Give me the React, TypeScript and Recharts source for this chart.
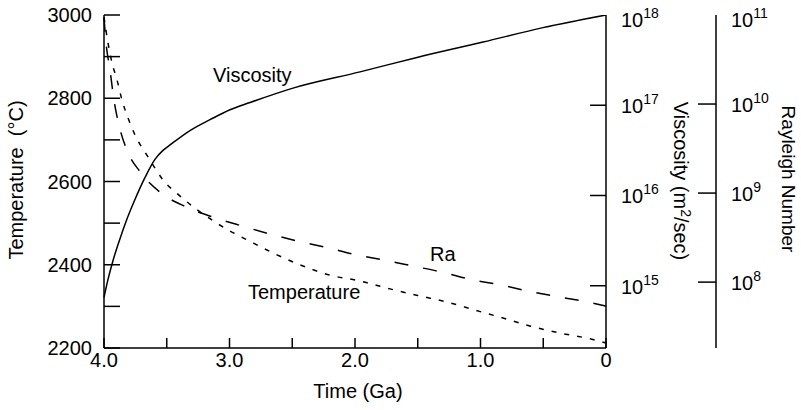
import React from 'react';
import { ComposedChart, Line, XAxis, YAxis } from 'recharts';

// time in Ga
const timeTicks = [4, 3.5, 3, 2.5, 2, 1.5, 1, 0.5, 0];
const tempTicks = [2200, 2300, 2400, 2500, 2600, 2700, 2800, 2900, 3000];
const viscTicks = [15, 16, 17, 18]; // log10 (m2/sec)
const rayTicks = [8, 9, 10, 11]; // log10 Ra

const tempTime = [4.0, 3.968, 3.936, 3.896, 3.857, 3.809, 3.753, 3.649, 3.53, 3.394, 3.235, 3.036, 2.829, 2.637, 2.414, 2.199, 1.96, 1.721, 1.482, 1.275, 1.044, 0.821, 0.606, 0.367, 0.127, 0];
const tempValue = [2995, 2933, 2885, 2844, 2796, 2753, 2712, 2659, 2604, 2565, 2527, 2488, 2455, 2426, 2397, 2375, 2361, 2342, 2325, 2311, 2291, 2272, 2253, 2236, 2222, 2212];

const raTime = [4.0, 3.984, 3.952, 3.92, 3.88, 3.817, 3.713, 3.554, 3.355, 3.131, 2.9, 2.677, 2.454, 2.231, 2.0, 1.777, 1.538, 1.299, 1.076, 0.845, 0.622, 0.398, 0.159, 0];
const raLog = [10.97, 10.69, 10.38, 10.04, 9.76, 9.48, 9.24, 9.01, 8.85, 8.73, 8.63, 8.54, 8.46, 8.39, 8.31, 8.25, 8.18, 8.11, 8.03, 7.97, 7.9, 7.84, 7.78, 7.73];

const viscTime = [4.0, 3.968, 3.928, 3.88, 3.825, 3.761, 3.673, 3.594, 3.53, 3.474, 3.315, 3.155, 2.996, 2.837, 2.494, 1.96, 1.506, 0.98, 0.502, 0];
const viscLog = [14.87, 15.07, 15.28, 15.49, 15.71, 15.93, 16.2, 16.4, 16.5, 16.56, 16.72, 16.84, 16.95, 17.03, 17.19, 17.37, 17.53, 17.7, 17.86, 18.0];

const tempData = tempTime.map((t, i) => ({ t, v: tempValue[i] }));
const raData = raTime.map((t, i) => ({ t, v: raLog[i] }));
const viscData = viscTime.map((t, i) => ({ t, v: viscLog[i] }));

const FONT = '"Liberation Sans", Arial, Helvetica, sans-serif';
const FS = 20;

const BottomTick = ({ x, y, payload }: any) => {
    const v = payload.value;
    const whole = Math.abs(v - Math.round(v)) < 1e-6;
    return (
        <g>
            <line x1={x} x2={x} y1={y} y2={y - 10} stroke="#000" strokeWidth={1.5} />
            {whole && (
                <text x={x} y={y + 19} textAnchor="middle" fontSize={FS} fontFamily={FONT} fill="#000">
                    {v === 0 ? '0' : v.toFixed(1)}
                </text>
            )}
        </g>
    );
};

const TopTick = ({ x, y }: any) => (
    <line x1={x} x2={x} y1={y} y2={y + 10} stroke="#000" strokeWidth={1.5} />
);

const TempTick = ({ x, y, payload }: any) => {
    const v = payload.value;
    return (
        <g>
            <line x1={x} x2={x + 16} y1={y} y2={y} stroke="#000" strokeWidth={1.5} />
            {v % 200 === 0 && (
                <text x={x - 12} y={y + 7} textAnchor="end" fontSize={FS} fontFamily={FONT} fill="#000">
                    {v}
                </text>
            )}
        </g>
    );
};

const PowerTick = ({ x, y, payload, len, top }: any) => {
    const v = payload.value;
    return (
        <g>
            {v !== top && <line x1={x - len} x2={x} y1={y} y2={y} stroke="#000" strokeWidth={1.5} />}
            <text x={x + 15} y={y + (v === top ? 12 : 8)} fontSize={FS} fontFamily={FONT} fill="#000">
                10
                <tspan fontSize={14} dy={-9}>{v}</tspan>
            </text>
        </g>
    );
};

const App = () => {
    return (
        <div style={{ position: 'absolute', left: 0, top: 0 }}>
            <ComposedChart width={801} height={410} margin={{ top: 15, right: 0, bottom: 0, left: 0 }}>
                <XAxis
                    xAxisId="bottom"
                    type="number"
                    dataKey="t"
                    domain={[0, 4]}
                    ticks={timeTicks}
                    reversed
                    height={62}
                    tickSize={0}
                    tickMargin={0}
                    tickLine={false}
                    axisLine={{ stroke: '#000', strokeWidth: 1.5 }}
                    tick={<BottomTick />}
                    interval={0}
                />
                <XAxis
                    xAxisId="top"
                    orientation="top"
                    type="number"
                    dataKey="t"
                    domain={[0, 4]}
                    ticks={timeTicks}
                    reversed
                    height={0}
                    tickSize={0}
                    tickMargin={0}
                    tickLine={false}
                    axisLine={{ stroke: '#000', strokeWidth: 1.5 }}
                    tick={<TopTick />}
                    interval={0}
                />
                <YAxis
                    yAxisId="temp"
                    type="number"
                    domain={[2200, 3000]}
                    ticks={tempTicks}
                    width={104}
                    tickSize={0}
                    tickMargin={0}
                    tickLine={false}
                    axisLine={{ stroke: '#000', strokeWidth: 1.5 }}
                    tick={<TempTick />}
                    interval={0}
                />
                {/* right axes get stacked in id order, so the ids keep viscosity next to the plot */}
                <YAxis
                    yAxisId="a_visc"
                    orientation="right"
                    type="number"
                    domain={[14.31, 18]}
                    allowDataOverflow
                    ticks={viscTicks}
                    width={110}
                    tickSize={0}
                    tickMargin={0}
                    tickLine={false}
                    axisLine={{ stroke: '#000', strokeWidth: 1.5 }}
                    tick={<PowerTick len={16} top={18} />}
                    interval={0}
                />
                <YAxis
                    yAxisId="b_ray"
                    orientation="right"
                    type="number"
                    domain={[7.26, 11]}
                    allowDataOverflow
                    ticks={rayTicks}
                    width={85}
                    tickSize={0}
                    tickMargin={0}
                    tickLine={false}
                    axisLine={{ stroke: '#000', strokeWidth: 1.5 }}
                    tick={<PowerTick len={18} top={11} />}
                    interval={0}
                />
                <Line data={viscData} dataKey="v" xAxisId="bottom" yAxisId="a_visc" type="monotone" stroke="#000" strokeWidth={1.5} dot={false} isAnimationActive={false} />
                <Line data={tempData} dataKey="v" xAxisId="bottom" yAxisId="temp" type="monotone" stroke="#000" strokeWidth={1.5} strokeDasharray="5 8" dot={false} isAnimationActive={false} />
                <Line data={raData} dataKey="v" xAxisId="bottom" yAxisId="b_ray" type="monotone" stroke="#000" strokeWidth={1.5} strokeDasharray="14 15" dot={false} isAnimationActive={false} />

                <text x={213} y={82} fontSize={FS} fontFamily={FONT} fill="#000">Viscosity</text>
                <text x={430} y={261} fontSize={FS} fontFamily={FONT} fill="#000">Ra</text>
                <text x={248} y={299} fontSize={FS} fontFamily={FONT} fill="#000">Temperature</text>

                <text x={358} y={398} textAnchor="middle" fontSize={FS} fontFamily={FONT} fill="#000">Time (Ga)</text>
                <text x={23} y={180} transform="rotate(-90, 23, 180)" textAnchor="middle" fontSize={FS} fontFamily={FONT} fill="#000">
                    Temperature{'\u00a0\u00a0'}(°C)
                </text>
                <text x={674} y={181} transform="rotate(90, 674, 181)" textAnchor="middle" fontSize={FS} fontFamily={FONT} fill="#000">
                    Viscosity (m<tspan fontSize={14} dy={-7}>2</tspan><tspan dy={7}>/sec)</tspan>
                </text>
                <text x={782} y={179} transform="rotate(90, 782, 179)" textAnchor="middle" fontSize={19} fontFamily={FONT} fill="#000">
                    Rayleigh Number
                </text>
            </ComposedChart>
        </div>
    );
};

export default App;
